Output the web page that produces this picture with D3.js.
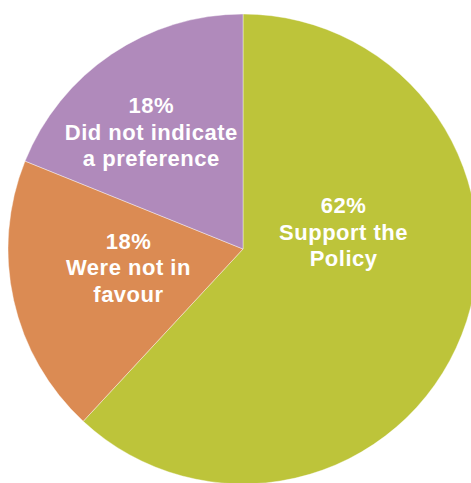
<!DOCTYPE html>
<html>
<head>
<meta charset="utf-8">
<script src="https://cdn.jsdelivr.net/npm/d3@7"></script>
<style>
  body { margin: 0; background: #fff; overflow: hidden; }
  svg { display: block; }
  .lbl { font-family: "Liberation Sans", Arial, sans-serif; font-weight: bold; font-size: 22px; letter-spacing: 0.5px; fill: #fff; }
</style>
</head>
<body>
<script>
// slice shares (clockwise from 12 o'clock)
const categories = ['Support the Policy', 'Were not in favour', 'Did not indicate a preference'];
const values = [61.9, 19.2, 18.9];
const pctLabels = ['62%', '18%', '18%'];
const labelLines = [['Support the', 'Policy'], ['Were not in', 'favour'], ['Did not indicate', 'a preference']];
const colors = ['#bdc43a', '#db8b53', '#b08abb'];

// where each label sits: [angle in degrees clockwise from top, distance from centre]
const labelSpot = [[80.4, 102], [261, 116], [322, 149]];

const chartWidth = 471;
const chartHeight = 483;
const cx = 243, cy = 249, radius = 235;

const data = categories.map((c, i) => ({
  name: c,
  value: values[i],
  pct: pctLabels[i],
  lines: labelLines[i],
  color: colors[i],
  spot: labelSpot[i]
}));

const svg = d3.select('body')
  .append('svg')
  .attr('width', chartWidth)
  .attr('height', chartHeight);

const g = svg.append('g')
  .attr('transform', 'translate(' + cx + ',' + cy + ')');

const pie = d3.pie()
  .sort(null)
  .value(d => d.value);

const arc = d3.arc()
  .innerRadius(0)
  .outerRadius(radius);

g.selectAll('path')
  .data(pie(data))
  .enter()
    .append('path')
    .attr('d', arc)
    .attr('fill', d => d.data.color)
    .attr('stroke', '#fff')
    .attr('stroke-width', 0.4);

const lineH = 26.5;

const labels = g.selectAll('text.lbl')
  .data(data)
  .enter()
    .append('text')
    .attr('class', 'lbl')
    .attr('text-anchor', 'middle')
    .attr('transform', d => {
      const a = d.spot[0] * Math.PI / 180;
      const x = Math.sin(a) * d.spot[1];
      const y = -Math.cos(a) * d.spot[1];
      return 'translate(' + x + ',' + y + ')';
    });

labels.each(function (d) {
  const t = d3.select(this);
  const lines = [d.pct].concat(d.lines);
  lines.forEach((line, i) => {
    t.append('tspan')
      .attr('x', 0)
      .attr('y', (i - 1) * lineH + 8)
      .text(line);
  });
});
</script>
</body>
</html>
